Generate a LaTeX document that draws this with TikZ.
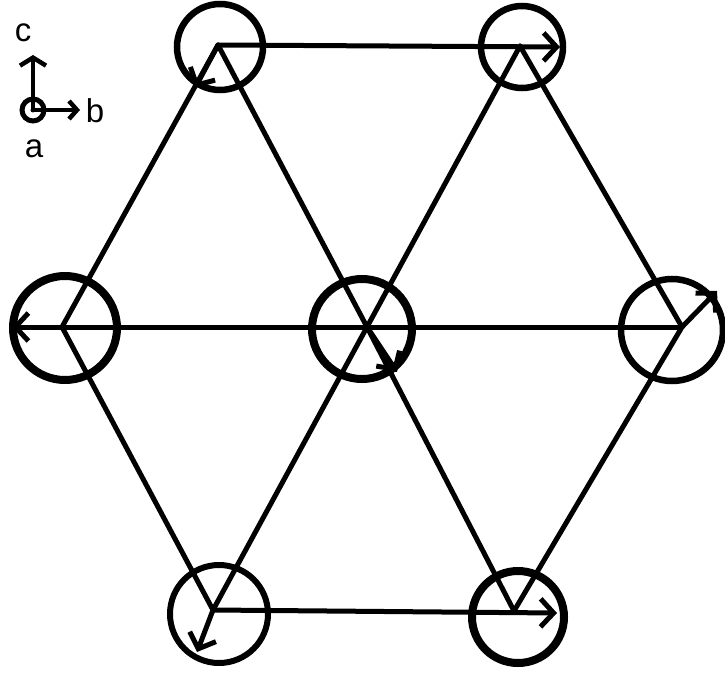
\documentclass[tikz,border=0pt]{standalone}
\usepackage{fontspec}
\setmainfont{Liberation Sans}
\usetikzlibrary{arrows.meta}
\begin{document}
\begin{tikzpicture}[x=1pt,y=-1pt,
  bond/.style={line width=5pt,line cap=round,line join=round},
  spin/.style={line width=5pt,-{Straight Barb[length=13pt,width=28pt,line width=5pt]}},
  ring/.style={circle,draw,inner sep=0pt,line width=#1},
  ring/.default=6pt,
  lbl/.style={font=\fontsize{33}{33}\selectfont,inner sep=0pt}]
\useasboundingbox (0,0) rectangle (725,674);
% lattice sites
\coordinate (TL) at (218,45);
\coordinate (TR) at (520,46);
\coordinate (L) at (62,327);
\coordinate (C) at (367,327);
\coordinate (R) at (682,327);
\coordinate (BL) at (213,610);
\coordinate (BR) at (514,611);
% spin tips
\coordinate (tTR) at (560,47);
\coordinate (tL) at (12,327);
\coordinate (tBR) at (557,613);
\coordinate (tTL) at (195,88);
\coordinate (tC) at (397,372);
\coordinate (tR) at (717,291);
\coordinate (tBL) at (197,652);
% circles
\node[ring=6.5pt,minimum size=86pt] (cTL) at (220,47) {};
\node[ring=6.5pt,minimum size=82pt] (cTR) at (522,47) {};
\node[ring=8pt,minimum size=104pt] (cL) at (65,328) {};
\node[ring=8pt,minimum size=100pt] (cC) at (362,329) {};
\node[ring=6.5pt,minimum size=102pt] (cR) at (672,330) {};
\node[ring=6pt,minimum size=98pt] (cBL) at (219,614) {};
\node[ring=8pt,minimum size=92pt] (cBR) at (518,617) {};
% bonds
\draw[bond] (TL) -- (L) -- (BL);
\draw[bond] (TR) -- (R) -- (BR);
\draw[bond] (TL) -- (C) -- (BR);
\draw[bond] (TR) -- (C) -- (BL);
% spins drawn along bonds
\draw[spin] (TL) -- (tTR);
\draw[spin] (R) -- (tL);
\draw[spin] (BL) -- (tBR);
\draw[spin] (TL) -- (tTL);
\draw[spin] (C) -- (tC);
\draw[spin] (R) -- (tR);
\draw[spin] (BL) -- (tBL);
% axes
\node[ring=5pt,minimum size=22pt] (ax) at (33,110) {};
\fill (ax.center) circle (2.5pt);
\coordinate (axc) at (33,55);
\coordinate (axb) at (80,110);
\draw[line width=4.5pt,-{Straight Barb[length=8pt,width=26pt,line width=4.5pt]}] (ax.center) -- (axc);
\draw[line width=4.5pt,-{Straight Barb[length=8pt,width=18pt,line width=4.5pt]}] (ax.center) -- (axb);
\node[lbl] (lc) at (23,33) {c};
\node[lbl] (lb) at (95,111) {b};
\node[lbl] (la) at (34,149) {a};
\end{tikzpicture}
\end{document}
